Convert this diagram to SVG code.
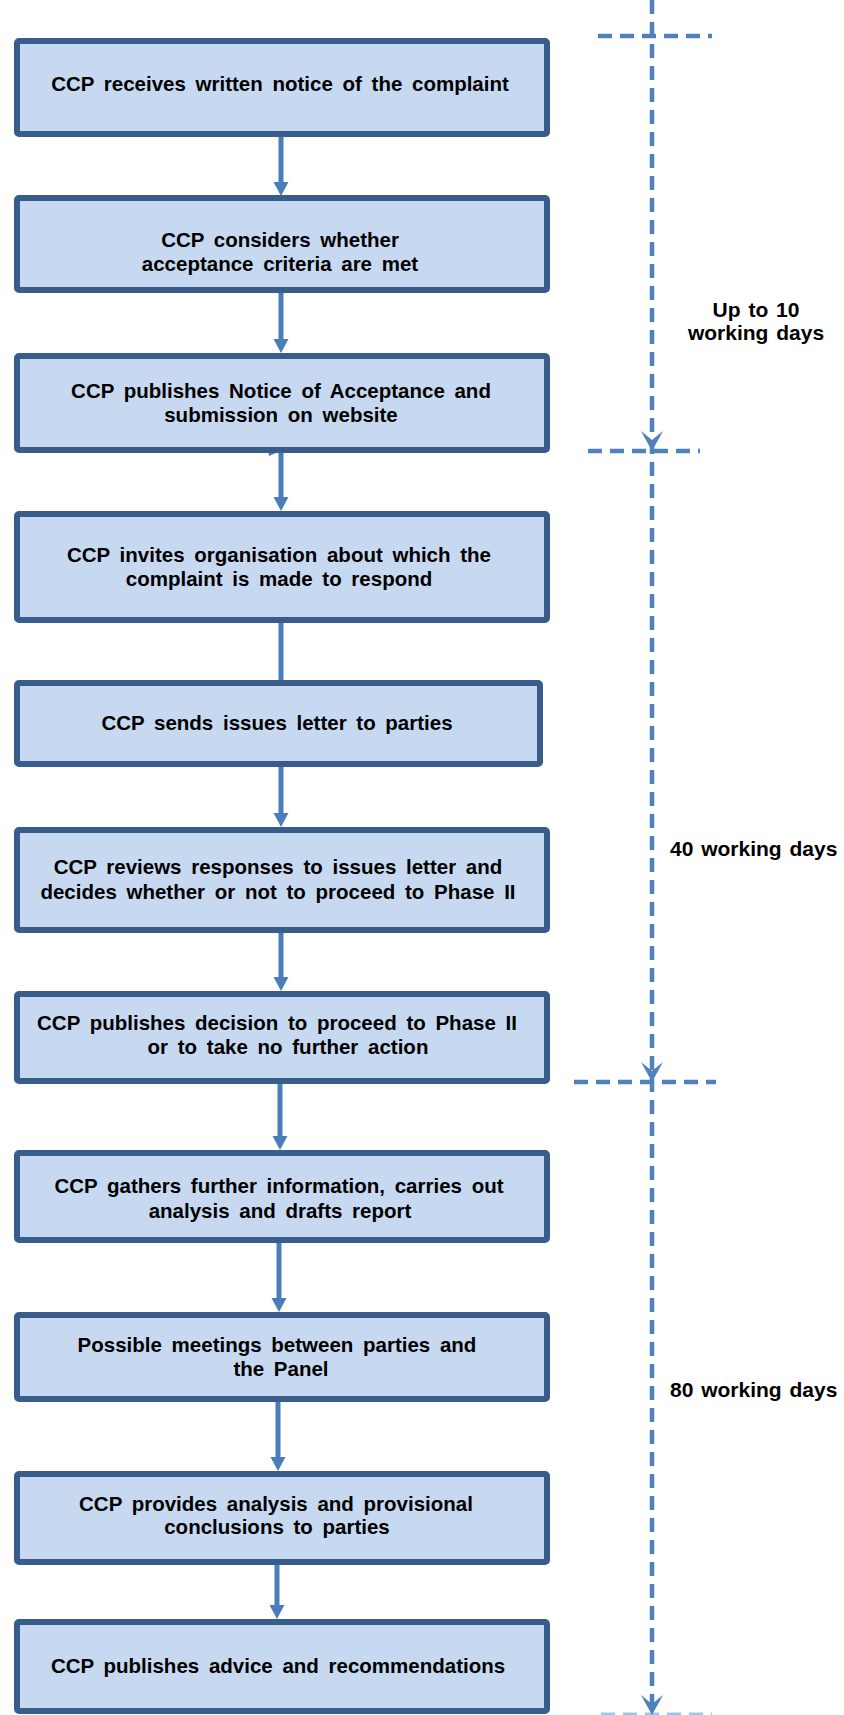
<svg xmlns="http://www.w3.org/2000/svg" width="844" height="1715" viewBox="0 0 844 1715">
<style>
.box{fill:#c6d9f1;stroke:#385d8a;stroke-width:6}
.t{font-family:"Liberation Sans",Arial,sans-serif;font-weight:bold;font-size:20.5px;fill:#000;text-anchor:middle;word-spacing:4px}
.lbl{font-family:"Liberation Sans",Arial,sans-serif;font-weight:bold;font-size:21px;fill:#000;word-spacing:2px}
.con{stroke:#4a7ebb;stroke-width:5;fill:none}
.dash{stroke:#4f81bd;stroke-width:4.5;stroke-dasharray:14 8;fill:none}
.ah{fill:#4a7ebb}
.dah{fill:#4f81bd}
</style>
<rect width="844" height="1715" fill="#fff"/>
<g id="timeline">
<line class="dash" x1="652" y1="0" x2="652" y2="1715"/>
<line class="dash" x1="598" y1="36" x2="712" y2="36"/>
<line class="dash" x1="588" y1="451" x2="700" y2="451"/>
<line class="dash" x1="574" y1="1082" x2="716" y2="1082"/>
<line x1="601" y1="1714" x2="712" y2="1714" stroke="#a9c1e0" stroke-width="3" stroke-dasharray="14 8"/>
<path class="dah" d="M652,451 L641,431 L652,440 L663,431 Z"/>
<path class="dah" d="M652,1082 L641,1062 L652,1071 L663,1062 Z"/>
<path class="dah" d="M652,1715 L641,1695 L652,1704 L663,1695 Z"/>
<text class="lbl" x="756" y="317" text-anchor="middle">Up to 10</text>
<text class="lbl" x="756" y="340" text-anchor="middle">working days</text>
<text class="lbl" x="670" y="856">40 working days</text>
<text class="lbl" x="670" y="1397">80 working days</text>
</g>
<g id="connectors">
<line class="con" x1="281" y1="134" x2="281" y2="184"/>
<path class="ah" d="M273.5,182 L288.5,182 L281,196 Z"/>
<line class="con" x1="281" y1="290" x2="281" y2="341"/>
<path class="ah" d="M273.5,339 L288.5,339 L281,353 Z"/>
<line class="con" x1="281" y1="450" x2="281" y2="499"/>
<path class="ah" d="M267,443 L283,450 L269,456 Z"/>
<path class="ah" d="M273.5,497 L288.5,497 L281,511 Z"/>
<line class="con" x1="281" y1="620" x2="281" y2="683"/>
<line class="con" x1="281" y1="764" x2="281" y2="815"/>
<path class="ah" d="M273.5,813 L288.5,813 L281,827 Z"/>
<line class="con" x1="281" y1="930" x2="281" y2="979"/>
<path class="ah" d="M273.5,977 L288.5,977 L281,991 Z"/>
<line class="con" x1="280" y1="1081" x2="280" y2="1138"/>
<path class="ah" d="M272.5,1136 L287.5,1136 L280,1150 Z"/>
<line class="con" x1="279" y1="1240" x2="279" y2="1300"/>
<path class="ah" d="M271.5,1298 L286.5,1298 L279,1312 Z"/>
<line class="con" x1="278" y1="1399" x2="278" y2="1459"/>
<path class="ah" d="M270.5,1457 L285.5,1457 L278,1471 Z"/>
<line class="con" x1="277" y1="1562" x2="277" y2="1607"/>
<path class="ah" d="M269.5,1605 L284.5,1605 L277,1619 Z"/>
</g>
<g id="n1"><rect class="box" x="17" y="41" width="530" height="93" rx="2"/>
<text class="t" x="280" y="91">CCP receives written notice of the complaint</text></g>
<g id="n2"><rect class="box" x="17" y="198" width="530" height="92" rx="2"/>
<text class="t" x="280" y="247">CCP considers whether</text>
<text class="t" x="280" y="271">acceptance criteria are met</text></g>
<g id="n3"><rect class="box" x="17" y="356" width="530" height="94" rx="2"/>
<text class="t" x="281" y="398">CCP publishes Notice of Acceptance and</text>
<text class="t" x="281" y="422">submission on website</text></g>
<g id="n4"><rect class="box" x="17" y="514" width="530" height="106" rx="2"/>
<text class="t" x="279" y="562">CCP invites organisation about which the</text>
<text class="t" x="279" y="586">complaint is made to respond</text></g>
<g id="n5"><rect class="box" x="17" y="683" width="523" height="81" rx="2"/>
<text class="t" x="277" y="730">CCP sends issues letter to parties</text></g>
<g id="n6"><rect class="box" x="17" y="830" width="530" height="100" rx="2"/>
<text class="t" x="278" y="874">CCP reviews responses to issues letter and</text>
<text class="t" x="278" y="899">decides whether or not to proceed to Phase II</text></g>
<g id="n7"><rect class="box" x="17" y="994" width="530" height="87" rx="2"/>
<text class="t" x="277" y="1030">CCP publishes decision to proceed to Phase II</text>
<text class="t" x="288" y="1054">or to take no further action</text></g>
<g id="n8"><rect class="box" x="17" y="1153" width="530" height="87" rx="2"/>
<text class="t" x="279" y="1193">CCP gathers further information, carries out</text>
<text class="t" x="280" y="1218">analysis and drafts report</text></g>
<g id="n9"><rect class="box" x="17" y="1315" width="530" height="84" rx="2"/>
<text class="t" x="277" y="1352">Possible meetings between parties and</text>
<text class="t" x="281" y="1376">the Panel</text></g>
<g id="n10"><rect class="box" x="17" y="1474" width="530" height="88" rx="2"/>
<text class="t" x="276" y="1511">CCP provides analysis and provisional</text>
<text class="t" x="277" y="1534">conclusions to parties</text></g>
<g id="n11"><rect class="box" x="17" y="1622" width="530" height="89" rx="2"/>
<text class="t" x="278" y="1673">CCP publishes advice and recommendations</text></g>
</svg>
